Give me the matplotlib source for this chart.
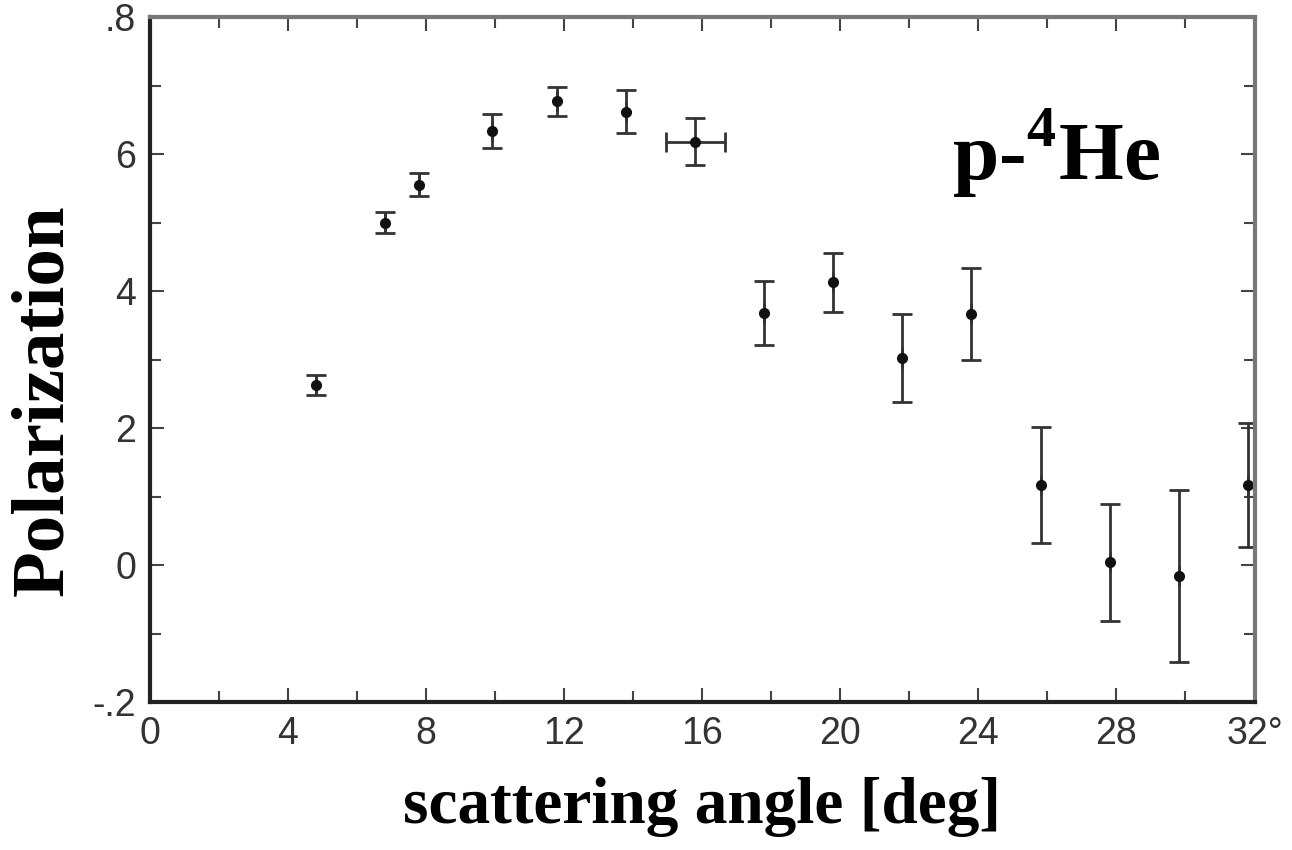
import numpy as np
import matplotlib
matplotlib.use('Agg')
import matplotlib.pyplot as plt

# p-4He polarization data
angle = [4.8, 6.8, 7.8, 9.9, 11.8, 13.8, 15.8, 17.8, 19.8, 21.8, 23.8, 25.8, 27.8, 29.8, 31.8]
pol = [0.263, 0.500, 0.555, 0.634, 0.677, 0.662, 0.618, 0.368, 0.413, 0.302, 0.366, 0.117, 0.004, -0.016, 0.117]
pol_err = [0.015, 0.015, 0.017, 0.025, 0.021, 0.031, 0.034, 0.047, 0.043, 0.064, 0.067, 0.085, 0.085, 0.125, 0.09]
angle_err = [0, 0, 0, 0, 0, 0, 0.85, 0, 0, 0, 0, 0, 0, 0, 0]

xticks = [0, 4, 8, 12, 16, 20, 24, 28, 32]
xticklabels = ['0', '4', '8', '12', '16', '20', '24', '28', '32°']
yticks = [-0.2, 0, 0.2, 0.4, 0.6, 0.8]
yticklabels = ['-.2', '0', '2', '4', '6', '.8']

plt.rcParams['mathtext.fontset'] = 'custom'
plt.rcParams['mathtext.rm'] = 'Liberation Serif:bold'
plt.rcParams['mathtext.bf'] = 'Liberation Serif:bold'

fig = plt.figure(figsize=(12.92, 8.5), dpi=100)
ax = fig.add_axes([0.116, 0.174, 0.855, 0.806])

ax.errorbar(angle, pol, yerr=pol_err, xerr=angle_err, fmt='o', color='#111111',
            ecolor='#333333', elinewidth=2, capsize=7, capthick=2, markersize=7)

ax.set_xlim(0, 32)
ax.set_ylim(-0.2, 0.8)
ax.set_xticks(xticks)
ax.set_xticklabels(xticklabels)
ax.set_xticks(np.arange(0, 33, 2), minor=True)
ax.set_yticks(yticks)
ax.set_yticklabels(yticklabels)
ax.set_yticks(np.arange(-0.2, 0.81, 0.1), minor=True)

ax.tick_params(which='both', direction='in', top=True, right=True, color='#444444', width=1.5)
ax.tick_params(which='major', length=10, pad=10, labelsize=27, labelcolor='#333333')
ax.tick_params(which='minor', length=8)
for lab in ax.get_xticklabels() + ax.get_yticklabels():
    lab.set_family('Liberation Sans')

for s in ['left', 'bottom']:
    ax.spines[s].set_color('#222222')
    ax.spines[s].set_linewidth(3)
for s in ['top', 'right']:
    ax.spines[s].set_color('#777777')
    ax.spines[s].set_linewidth(3)

ax.set_ylabel('Polarization', family='Liberation Serif', fontweight='bold', fontsize=54)
ax.yaxis.set_label_coords(-0.065, 0.44)
ax.set_xlabel('scattering angle [deg]', family='Liberation Serif', fontweight='bold', fontsize=47, labelpad=18)

ax.text(0.82, 0.80, r'p-$^{4}$He', transform=ax.transAxes, ha='center', va='center',
        family='Liberation Serif', fontweight='bold', fontsize=60)

plt.savefig('out.png', dpi=100)
